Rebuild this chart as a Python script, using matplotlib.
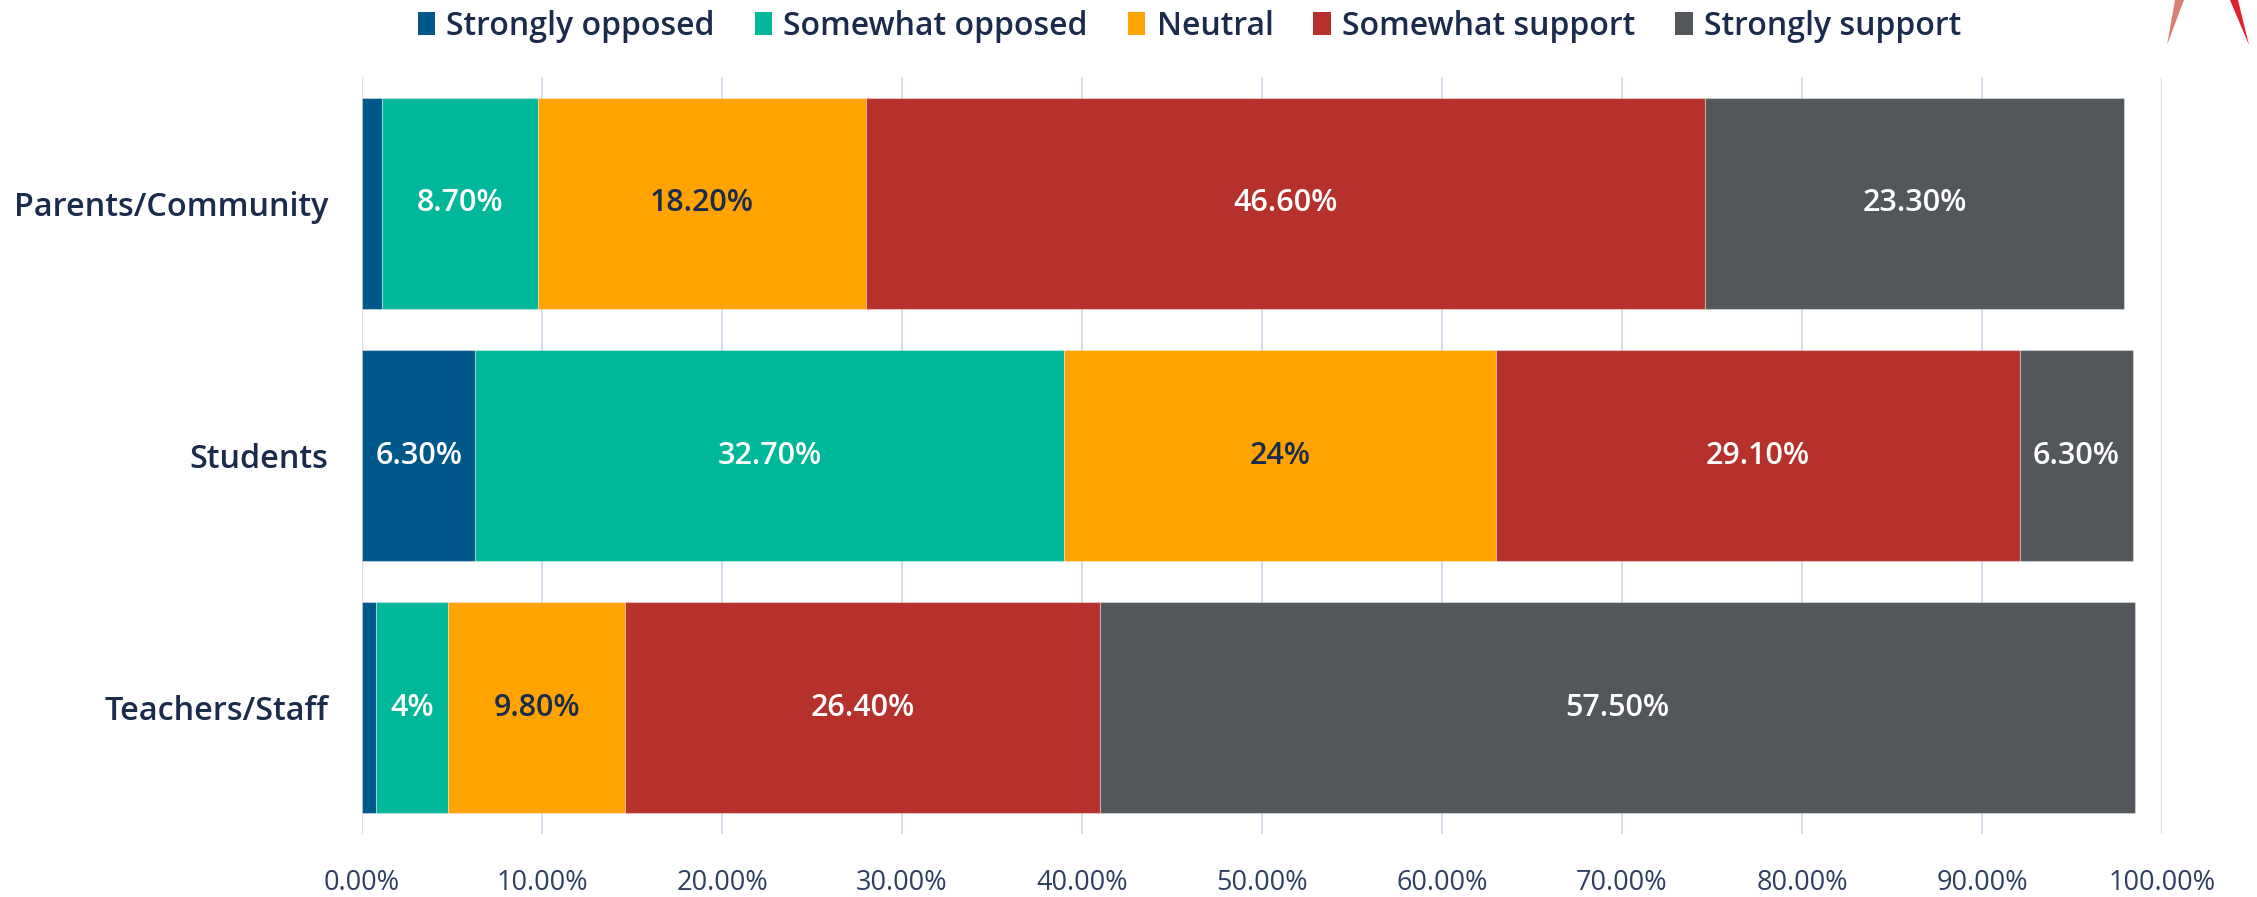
import matplotlib.pyplot as plt
from matplotlib.patches import Patch, Polygon
import numpy as np

plt.rcParams['font.family'] = ['Open Sans', 'DejaVu Sans']

groups = ["Parents/Community", "Students", "Teachers/Staff"]
series = ["Strongly opposed", "Somewhat opposed", "Neutral", "Somewhat support", "Strongly support"]
strongly_opposed = [1.1, 6.3, 0.8]
somewhat_opposed = [8.7, 32.7, 4.0]
neutral = [18.2, 24.0, 9.8]
somewhat_support = [46.6, 29.1, 26.4]
strongly_support = [23.3, 6.3, 57.5]
# labels shown in the bars (None = not labelled)
bar_labels = [
    [None, "6.30%", None],
    ["8.70%", "32.70%", "4%"],
    ["18.20%", "24%", "9.80%"],
    ["46.60%", "29.10%", "26.40%"],
    ["23.30%", "6.30%", "57.50%"],
]
xticks = [0, 10, 20, 30, 40, 50, 60, 70, 80, 90, 100]

colors = ["#00578a", "#00b899", "#ffa300", "#b7312c", "#53565a"]
label_colors = ["white", "white", "#1a2b4c", "white", "white"]
navy = "#1a2b4c"

fig = plt.figure(figsize=(22.57, 8.97), dpi=100)
ax = fig.add_axes([362 / 2257, 1 - 834 / 897, 1800 / 2257, (834 - 77) / 897])

values = [strongly_opposed, somewhat_opposed, neutral, somewhat_support, strongly_support]
y = np.arange(len(groups))
left = np.zeros(len(groups))
for i, vals in enumerate(values):
    vals = np.array(vals)
    ax.barh(y, vals, left=left, height=0.835, color=colors[i],
            edgecolor=(1, 1, 1, 0.35), linewidth=0.8, zorder=3)
    for j, lab in enumerate(bar_labels[i]):
        if lab is None:
            continue
        ax.text(left[j] + vals[j] / 2, y[j], lab, ha="center", va="center",
                color=label_colors[i], fontsize=22, fontweight=600, zorder=4)
    left = left + vals

ax.set_xlim(0, 100)
ax.set_ylim(2.5, -0.5)
ax.set_xticks(xticks)
ax.set_xticklabels(["%.2f%%" % t for t in xticks])
ax.set_yticks(y)
ax.set_yticklabels(groups, fontweight=600)
ax.tick_params(axis="x", length=0, pad=25, labelsize=19.5, labelcolor="#2e3f60")
ax.tick_params(axis="y", length=0, pad=24, labelsize=23.3, labelcolor=navy)
ax.grid(axis="x", color="#d3def2", linewidth=1.5, zorder=0)
for s in ax.spines.values():
    s.set_visible(False)

handles = [Patch(facecolor=c, edgecolor="none") for c in colors]
leg = fig.legend(handles, series, loc="center", bbox_to_anchor=(0.527, 0.971), ncol=5,
                 frameon=False, handlelength=0.55, handleheight=0.75, handletextpad=0.35,
                 columnspacing=1.25, prop={"size": 23, "weight": 600})
for t in leg.get_texts():
    t.set_color(navy)

# cut-off logo in the corner
H = 897
fig.patches.append(Polygon([(2175 / 2257, 1), (2184 / 2257, 1), (2167 / 2257, 1 - 45 / H)],
                           closed=True, transform=fig.transFigure, facecolor="#d98070", edgecolor="none"))
fig.patches.append(Polygon([(2230 / 2257, 1), (2238 / 2257, 1), (2249 / 2257, 1 - 45 / H)],
                           closed=True, transform=fig.transFigure, facecolor="#e0202e", edgecolor="none"))

fig.savefig("out.png", dpi=100, facecolor="white")
